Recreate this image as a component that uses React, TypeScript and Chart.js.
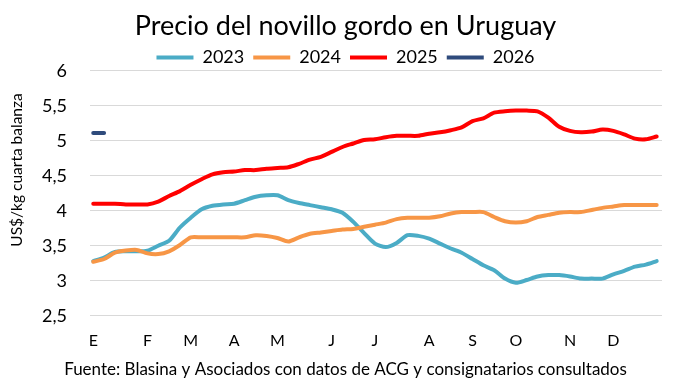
import React, { useEffect, useRef } from 'react';
import { Chart, registerables } from 'chart.js';

Chart.register(...registerables);

const chartTitle = 'Precio del novillo gordo en Uruguay';
const yAxisTitle = 'US$/kg cuarta balanza';
const footnote = 'Fuente: Blasina y Asociados con datos de ACG y consignatarios consultados';

const seriesNames = ['2023', '2024', '2025', '2026'];
const seriesColors = ['#4bacc6', '#f79646', '#ff0000', '#2f4b7c'];

// Weekly values (week index 0..52)
const values2023 = [
  3.28, 3.33, 3.41, 3.42, 3.42, 3.43, 3.50, 3.57, 3.76, 3.90,
  4.02, 4.07, 4.09, 4.10, 4.15, 4.20, 4.22, 4.22, 4.15, 4.11,
  4.08, 4.05, 4.02, 3.97, 3.84, 3.68, 3.53, 3.48, 3.54, 3.65,
  3.64, 3.60, 3.53, 3.46, 3.40, 3.31, 3.22, 3.15, 3.03, 2.97,
  3.01, 3.06, 3.08, 3.08, 3.06, 3.03, 3.03, 3.03, 3.09, 3.14,
  3.20, 3.23, 3.28,
];
const values2024 = [
  3.27, 3.31, 3.40, 3.43, 3.44, 3.39, 3.38, 3.42, 3.51, 3.62,
  3.62, 3.62, 3.62, 3.62, 3.62, 3.65, 3.64, 3.61, 3.56, 3.62,
  3.67, 3.69, 3.71, 3.73, 3.74, 3.77, 3.80, 3.83, 3.88, 3.90,
  3.90, 3.90, 3.92, 3.96, 3.98, 3.98, 3.98, 3.91, 3.85, 3.83,
  3.85, 3.91, 3.94, 3.97, 3.98, 3.98, 4.01, 4.04, 4.06, 4.08,
  4.08, 4.08, 4.08,
];
const values2025 = [
  4.10, 4.10, 4.10, 4.09, 4.09, 4.09, 4.13, 4.21, 4.28, 4.37,
  4.45, 4.52, 4.55, 4.56, 4.58, 4.58, 4.60, 4.61, 4.62, 4.67,
  4.73, 4.77, 4.84, 4.91, 4.96, 5.01, 5.02, 5.05, 5.07, 5.07,
  5.07, 5.10, 5.12, 5.15, 5.19, 5.28, 5.32, 5.40, 5.42, 5.43,
  5.43, 5.42, 5.33, 5.20, 5.14, 5.12, 5.13, 5.16, 5.14, 5.09,
  5.03, 5.02, 5.06,
];
const values2026 = [5.11, 5.11];

const monthTickWeeks = [0, 5, 9, 13, 17, 22, 26, 31, 35, 39, 44, 48];
const monthTickLabels = ['E', 'F', 'M', 'A', 'M', 'J', 'J', 'A', 'S', 'O', 'N', 'D'];

const yMin = 2.5;
const yMax = 6;
const yStep = 0.5;

const FONT = 'Lato';

const yTitlePlugin = {
  id: 'yTitleCustom',
  afterDraw(chart: any) {
    const ctx = chart.ctx;
    ctx.save();
    ctx.translate(17, 170);
    ctx.rotate(-Math.PI / 2);
    ctx.font = `15.5px ${FONT}`;
    ctx.fillStyle = '#000';
    ctx.textAlign = 'center';
    ctx.textBaseline = 'middle';
    ctx.fillText(yAxisTitle, 0, 0);
    ctx.restore();
  },
};

const legendHeightPlugin = {
  id: 'legendHeight',
  beforeInit(chart: any) {
    const legend = chart.legend;
    if (!legend) return;
    const origFit = legend.fit;
    legend.fit = function () {
      origFit.call(this);
      this.height = 31.2;
    };
  },
};

export default function App() {
  const ref = useRef<HTMLCanvasElement | null>(null);

  useEffect(() => {
    if (!ref.current) return;
    const all = [values2023, values2024, values2025, values2026];
    const chart = new Chart(ref.current, {
      type: 'line',
      data: {
        datasets: all.map((vals, k) => ({
          label: seriesNames[k],
          data: vals.map((v, i) => ({ x: i, y: v })),
          borderColor: seriesColors[k],
          backgroundColor: seriesColors[k],
          borderWidth: 4,
          pointRadius: 0,
          tension: 0.25,
          borderCapStyle: 'round',
          borderJoinStyle: 'round',
          order: 4 - k,
        })),
      },
      options: {
        responsive: false,
        animation: false,
        devicePixelRatio: 1,
        layout: { padding: { left: 29, right: 29, top: 0, bottom: 0 } },
        plugins: {
          title: {
            display: true,
            text: chartTitle,
            color: '#000',
            font: { family: FONT, size: 27, weight: 'normal', lineHeight: 1.0 },
            padding: { top: 12.5, bottom: 0 },
          },
          subtitle: {
            display: true,
            position: 'bottom',
            text: footnote,
            color: '#000',
            font: { family: FONT, size: 17, weight: 'normal' },
            padding: { top: 9.1, bottom: 6.8 },
          },
          legend: {
            display: true,
            position: 'top',
            labels: {
              usePointStyle: true,
              pointStyle: 'line',
              pointStyleWidth: 37,
              boxHeight: 18,
              padding: 9,
              color: '#000',
              font: { family: FONT, size: 18 },
              sort: (a: any, b: any) => a.datasetIndex - b.datasetIndex,
            },
          },
          tooltip: { enabled: false },
        },
        scales: {
          x: {
            type: 'linear',
            min: -0.3,
            max: 52.49,
            grid: { display: false, drawTicks: false },
            border: { display: false },
            afterBuildTicks: (s: any) => {
              s.ticks = monthTickWeeks.map((v) => ({ value: v }));
            },
            afterFit: (s: any) => {
              s.height = 35;
            },
            ticks: {
              autoSkip: false,
              maxRotation: 0,
              padding: 16,
              color: '#000',
              font: { family: FONT, size: 16 },
              callback: (_v: any, idx: number) => monthTickLabels[idx],
            },
          },
          y: {
            min: yMin,
            max: yMax,
            grid: { color: '#d9d9d9', lineWidth: 1, drawTicks: false },
            border: { display: false },
            afterFit: (s: any) => {
              s.width = 61;
            },
            ticks: {
              stepSize: yStep,
              padding: 23,
              color: '#000',
              font: { family: FONT, size: 18 },
              callback: (v: any) => String(v).replace('.', ','),
            },
          },
        },
      },
      plugins: [yTitlePlugin, legendHeightPlugin],
    } as any);
    return () => chart.destroy();
  }, []);

  return (
    <div style={{ position: 'absolute', left: 0, top: 0, width: 691, height: 387, background: '#fff' }}>
      <canvas ref={ref} width={691} height={387} />
    </div>
  );
}
